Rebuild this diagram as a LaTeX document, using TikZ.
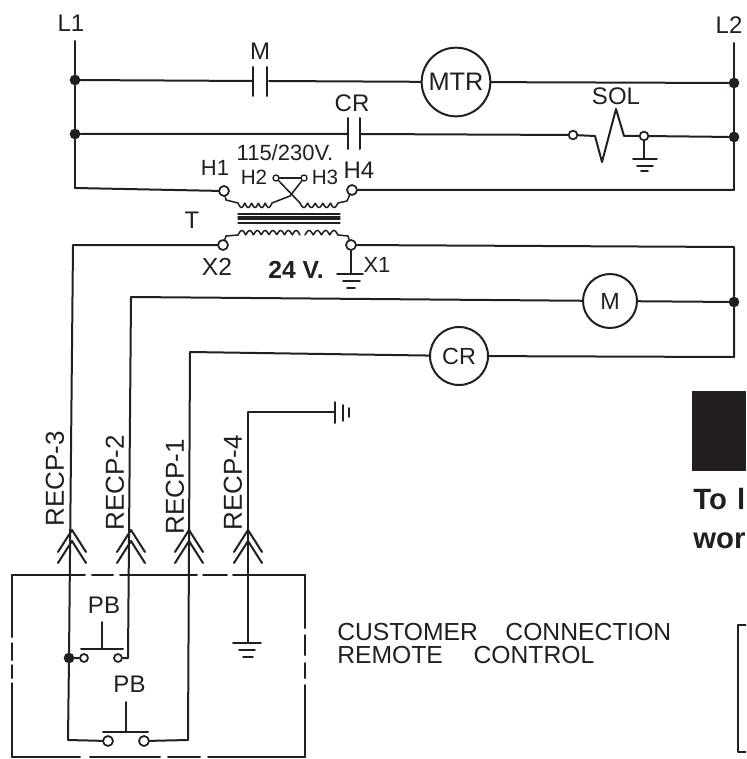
\documentclass[tikz,border=0pt]{standalone}
\usepackage{fontspec}
\setmainfont{Liberation Sans}
\definecolor{ink}{HTML}{231F20}
\tikzset{
	wire/.style={line width=1.5pt,color=ink},
	thinwire/.style={line width=1.15pt,color=ink},
	term/.style={circle,draw=ink,fill=white,line width=1.3pt,inner sep=0pt,minimum size=6.5pt},
	junc/.style={circle,fill=ink,inner sep=0pt,minimum size=8pt},
	load/.style={circle,draw=ink,fill=white,line width=1.5pt,inner sep=0pt,text=ink,font=\fontsize{17.5}{17.5}\selectfont},
	lab/.style={text=ink,inner sep=0pt,font=\fontsize{18}{18}\selectfont},
	tap/.style={lab,font=\fontsize{16.5}{16.5}\selectfont},
	recp/.style={lab,rotate=90,font=\fontsize{19.5}{19.5}\selectfont},
	note/.style={lab,anchor=west,font=\fontsize{18.5}{18.5}\selectfont},
	cutoff/.style={text=ink,inner sep=0pt,anchor=base west,font=\bfseries\fontsize{22}{22}\selectfont}
}
\begin{document}
\begin{tikzpicture}[x=0.75pt,y=-0.75pt,line join=round,line cap=round]
	\useasboundingbox (0,0) rectangle (746,759);
	\clip (0,0) rectangle (746,759);
	% rails
	\coordinate (lonetop) at (75,41);
	\coordinate (ltwotop) at (734,43);
	\node[junc] (aleft) at (75,80) {};
	\node[junc] (bleft) at (75,134) {};
	\coordinate (cleft) at (75,188);
	\node[junc] (aright) at (734,83) {};
	\node[junc] (bright) at (734,137) {};
	\coordinate (cright) at (734,190);
	\draw[wire] (lonetop)--(aleft)--(bleft)--(cleft);
	\draw[wire] (ltwotop)--(aright)--(bright)--(cright);
	\node[lab] (lone) at (71,23) {L1};
	\node[lab] (ltwo) at (729,25) {L2};
	% first rung
	\coordinate (ma) at (253,81);
	\coordinate (mb) at (269,81);
	\node[load,minimum size=51.5pt,font=\fontsize{19}{19}\selectfont] (mtr) at (456,82) {MTR\hspace{5pt}};
	\draw[wire] (aleft)--(ma) (mb)--(mtr)--(aright);
	\draw[wire] (253,67)--(253,96) (267,67)--(267,96);
	\node[lab] (mlab) at (260,51) {M};
	% second rung
	\coordinate (cra) at (348,134);
	\coordinate (crb) at (361,134);
	\node[term] (sola) at (573,135) {};
	\node[term] (solb) at (644,136) {};
	\draw[wire] (bleft)--(cra) (crb)--(sola);
	\draw[wire] (348,118)--(348,149) (360,118)--(360,149);
	\draw[wire] (sola)--(595,136)--(602,162)--(616,109)--(624,136)--(solb)--(bright);
	\node[lab] (crlab) at (352,103) {CR};
	\node[lab] (sollab) at (616,96) {SOL};
	\coordinate (solg) at (644,159);
	\draw[wire] (solb)--(solg);
	\draw[thinwire] (633,159)--(657,159) (637,166)--(653,166) (641,171)--(648,171);
	% transformer
	\node[term,minimum size=7.5pt] (hone) at (224,191) {};
	\node[term,minimum size=7.5pt] (hfour) at (352,190) {};
	\node[term,minimum size=4.5pt,line width=1pt] (htwo) at (276,178) {};
	\node[term,minimum size=4.5pt,line width=1pt] (hthree) at (304,178) {};
	\node[term,minimum size=7.5pt] (xtwo) at (223,245) {};
	\node[term,minimum size=7.5pt] (xone) at (351,245) {};
	\draw[wire] (cleft)--(hone) (hfour)--(cright);
	\draw[thinwire] (htwo)--(hthree);
	\draw[thinwire] (hone)--(226,200)--(238,203);
	\draw[thinwire] (hthree)--(290,196)--(272,203);
	\draw[thinwire] (htwo)--(300,203);
	\draw[thinwire] (338,203)--(347,201)--(hfour);
	\draw[thinwire] (xtwo)--(226,236)--(238,235);
	\draw[thinwire] (338,235)--(348,236)--(xone);
	\foreach \xa/\xb/\ya/\n/\s in {238/272/203/5/1,300/338/203/5/1,238/300/235/8/-1,305/338/235/4/-1}
	\draw[thinwire,samples=90,domain=\xa:\xb,variable=\x] plot (\x,{\ya+\s*4.5*abs(sin(180*\n*((\x-\xa)/(\xb-\xa))))});
	\foreach \y in {214,217,219,223}
	\draw[line width=0.8pt,color=ink] (238,\y)--(340,\y);
	\node[tap] (volt) at (285,153) {115/230V.};
	\node[tap] (honelab) at (215,168) {H1};
	\node[tap,font=\fontsize{15.5}{15.5}\selectfont] (htwolab) at (254,177) {H2};
	\node[tap,font=\fontsize{15.5}{15.5}\selectfont] (hthreelab) at (325,177) {H3};
	\node[lab] (hfourlab) at (359,170) {H4};
	\node[lab] (tlab) at (192,220) {T};
	\node[lab,font=\fontsize{18.5}{18.5}\selectfont] (xtwolab) at (217,267) {X2};
	\node[tap] (xonelab) at (377,265) {X1};
	\node[lab,font=\bfseries\fontsize{18.5}{18.5}\selectfont] (lowv) at (296,270) {24 V.};
	\draw[wire] (xone)--(351,274);
	\draw[thinwire] (337,274)--(363,274) (343,281)--(360,281) (347,288)--(355,288);
	% low voltage side
	\coordinate (xrail) at (734,247);
	\coordinate (lwa) at (73,245);
	\coordinate (lwb) at (131,297);
	\coordinate (lwc) at (190,352);
	\node[junc] (mjunc) at (734,302) {};
	\coordinate (crail) at (734,357);
	\node[load,minimum size=40.5pt] (mcoil) at (610,301) {M};
	\node[load,minimum size=43.5pt] (crcoil) at (459,356) {CR};
	\draw[wire] (xtwo)--(lwa) (xone)--(xrail)--(mjunc)--(crail);
	\draw[wire] (lwb)--(mcoil)--(mjunc);
	\draw[wire] (lwc)--(crcoil)--(crail);
	% remote control box
	\foreach \xa/\ya/\xb/\yb in {12/575/85/575,92/575/113/575,120/575/197/575,203/575/227/575,233/575/305/575,
		305/575/305/628,305/635/305/655,305/663/305/678,305/685/305/757,
		12/575/12/637,12/643/12/660,12/665/12/678,12/683/12/757,
		12/757/80/757,90/757/160/757,168/757/200/757,208/757/305/757}
	\draw[wire] (\xa,\ya)--(\xb,\yb);
	\node[junc] (pjunc) at (69,658) {};
	\node[term,minimum size=6pt] (pba) at (84,658) {};
	\node[term,minimum size=6pt] (pbb) at (118,658) {};
	\node[term,minimum size=7.5pt] (pbc) at (108,741) {};
	\node[term,minimum size=7.5pt] (pbd) at (144,741) {};
	\coordinate (pbbc) at (128,658);
	\coordinate (pbcc) at (68,740);
	\coordinate (pbdc) at (188,740);
	\draw[wire] (lwa)--(pjunc)--(pbcc)--(pbc);
	\draw[wire] (pjunc)--(pba) (pbb)--(pbbc)--(lwb);
	\draw[wire] (pbd)--(pbdc)--(lwc);
	\draw[wire] (81,649)--(123,649) (102,622)--(102,649);
	\draw[wire] (103,732)--(148,732) (126,702)--(126,732);
	\node[lab] (pbone) at (104,605) {PB};
	\node[lab] (pbtwo) at (129.5,684) {PB};
	% chevrons
	\foreach \x in {72,131,189,248}{
		\draw[wire] ({\x-14},552)--(\x,530)--({\x+14},552);
		\draw[wire] ({\x-14},563)--(\x,541)--({\x+14},563);
	}
	\node[recp] (recpc) at (55,479) {RECP-3};
	\node[recp] (recpb) at (115,483) {RECP-2};
	\node[recp] (recpa) at (175,487) {RECP-1};
	\node[recp] (recpd) at (233,483) {RECP-4};
	% ground lead
	\coordinate (gbox) at (248,643);
	\coordinate (gcorner) at (248,412);
	\coordinate (gend) at (335,412);
	\draw[wire] (gbox)--(gcorner)--(gend);
	\draw[thinwire] (233,643)--(261,643) (239,650)--(255,650) (243,657)--(253,657);
	\draw[wire] (335,402)--(335,423);
	\draw[thinwire] (343,405)--(343,421) (349,408)--(349,417);
	\node[note] (custa) at (337,632) {CUSTOMER\hspace{15.5pt} CONNECTION};
	\node[note] (custb) at (337,655) {REMOTE\hspace{18pt} CONTROL};
	% cut off page content
	\fill[ink] (692,391) rectangle (746,471);
	\node[cutoff] (tola) at (693,509) {To\hspace{1.5pt} l};
	\node[cutoff] (tolb) at (693,548) {wor};
	\draw[wire] (746,625)--(738,625)--(738,752)--(746,752);
\end{tikzpicture}
\end{document}
